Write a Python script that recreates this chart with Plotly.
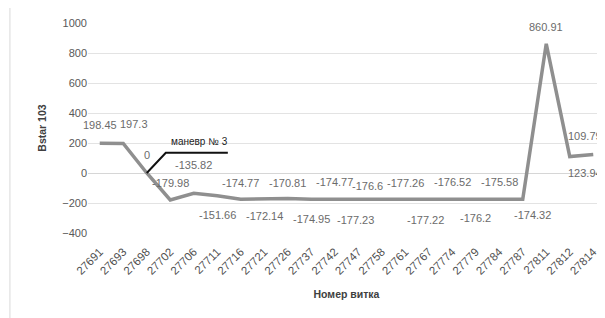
import plotly.graph_objects as go

orbits = ["27691", "27693", "27698", "27702", "27706", "27711", "27716", "27721", "27726",
          "27737", "27742", "27747", "27758", "27761", "27767", "27774", "27779", "27784",
          "27787", "27811", "27812", "27814"]
bstar = [198.45, 197.3, 0, -179.98, -135.82, -151.66, -174.77, -172.14, -170.81,
         -174.95, -174.77, -177.23, -176.6, -177.26, -177.22, -176.52, -176.2, -175.58,
         -174.32, 860.91, 109.79, 123.94]
label_text = ["198.45", "197.3", "0", "-179.98", "-135.82", "-151.66", "-174.77", "-172.14",
              "-170.81", "-174.95", "-174.77", "-177.23", "-176.6", "-177.26", "-177.22",
              "-176.52", "-176.2", "-175.58", "-174.32", "860.91", "109.79", "123.94"]
maneuver_x = [2.0, 2.81, 5.45]
maneuver_y = [0, 135, 135]
maneuver_label = "маневр № 3"
y_ticks = [-400, -200, 0, 200, 400, 600, 800, 1000]

# label offsets (pixels) - styling only
label_dx = [0, 11, 0, 0, 0, 0, 0, 0, 0, 0, 0, -3, -14, 0, -3, 0, 0, 0, 10, 0, 15, -8]
label_dy = [-18, -19, -18, -17, -28, 19, -16, 17, -16, 20, -17, 20, -13, -17, 20, -17, 19, -17, 16, -17, -21, 19]

FONT = "Liberation Sans"
xs = list(range(len(orbits)))

fig = go.Figure()
fig.add_trace(go.Scatter(x=xs, y=bstar, mode="lines",
                         line=dict(color="#8f8f8f", width=3.5), hoverinfo="skip",
                         showlegend=False))
fig.add_trace(go.Scatter(x=maneuver_x, y=maneuver_y, mode="lines",
                         line=dict(color="#111111", width=2), hoverinfo="skip",
                         showlegend=False))

for i, (x, v, t) in enumerate(zip(xs, bstar, label_text)):
    fig.add_annotation(x=x, y=v, text=t, showarrow=False,
                       xshift=label_dx[i], yshift=-label_dy[i],
                       font=dict(family=FONT, size=11, color="#6b6b6b"))

fig.add_annotation(x=4.26, y=207, text=maneuver_label, showarrow=False,
                   font=dict(family=FONT, size=10, color="#222222"))

# page body has an 8px default margin, so the figure is sized/placed to compensate
fig.update_layout(
    width=597, height=310,
    margin=dict(l=80, r=0, t=15, b=85, autoexpand=False),
    paper_bgcolor="white", plot_bgcolor="white",
    font=dict(family=FONT, size=11, color="#595959"),
    xaxis=dict(
        range=[-0.5, len(orbits) - 0.5], automargin=False,
        tickvals=xs, ticktext=orbits, tickangle=-45,
        showgrid=False, zeroline=False, showline=False,
        ticklabelstandoff=9,
        tickfont=dict(family=FONT, size=11.5, color="#505050"),
        title=dict(text="<b>Номер витка</b>", font=dict(family=FONT, size=10.5, color="#404040"),
                   standoff=14),
    ),
    yaxis=dict(
        range=[-400, 1000], tickvals=y_ticks, automargin=False,
        showgrid=True, gridcolor="#e3e3e3", gridwidth=1,
        zeroline=True, zerolinecolor="#d6d6d6", zerolinewidth=1,
        tickfont=dict(family=FONT, size=11, color="#595959"),
        ticklen=0, ticks="",
        title=dict(text="<b>Bstar 103</b>", font=dict(family=FONT, size=10.5, color="#404040"),
                   standoff=13),
    ),
    shapes=[dict(type="line", xref="paper", yref="paper", x0=-0.151, x1=-0.151, y0=-0.45, y1=1.2,
                 line=dict(color="#d9d9d9", width=1))],
)

fig.write_html("out.html")
